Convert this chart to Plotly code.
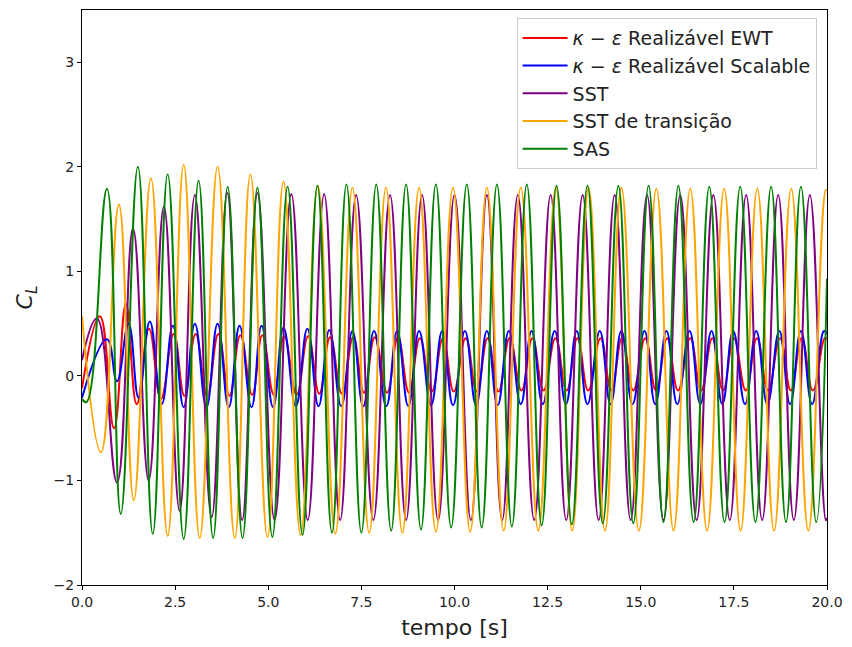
import plotly.graph_objects as go

# Extrema (peaks/troughs), per series: time [s] and C_L
ewt_t = [0.0, 0.48, 0.86, 1.18, 1.47, 1.80, 2.12, 2.46, 2.75, 3.05, 3.36, 3.66, 3.96, 4.25, 4.57,
         4.84, 5.15, 5.43, 5.76, 6.07, 6.37, 6.66, 6.98, 7.28, 7.57, 7.86, 8.19, 8.48, 8.78, 9.07,
         9.39, 9.69, 9.98, 10.30, 10.60, 10.89, 11.18, 11.48, 11.80, 12.09, 12.39, 12.71, 13.01,
         13.30, 13.59, 13.92, 14.21, 14.50, 14.80, 15.12, 15.41, 15.71, 16.00, 16.33, 16.62, 16.92,
         17.21, 17.50, 17.82, 18.12, 18.42, 18.74, 19.03, 19.32, 19.62, 19.94, 20.0]
ewt_v = [-0.12, 0.57, -0.50, 0.69, -0.27, 0.45, -0.22, 0.40, -0.19, 0.40, -0.19, 0.40, -0.19, 0.39,
         -0.18, 0.39, -0.18, 0.38, -0.18, 0.38, -0.17, 0.37, -0.17, 0.37, -0.16, 0.37, -0.16, 0.37,
         -0.16, 0.36, -0.15, 0.36, -0.15, 0.36, -0.15, 0.36, -0.15, 0.36, -0.14, 0.36, -0.14, 0.36,
         -0.14, 0.36, -0.14, 0.36, -0.14, 0.36, -0.14, 0.36, -0.14, 0.36, -0.14, 0.36, -0.14, 0.36,
         -0.14, 0.36, -0.14, 0.36, -0.14, 0.36, -0.14, 0.36, -0.14, 0.36, 0.35]

scal_t = [0.0, 0.67, 0.94, 1.25, 1.52, 1.82, 2.14, 2.44, 2.73, 3.03, 3.34, 3.64, 3.94, 4.23, 4.55,
          4.82, 5.13, 5.41, 5.74, 6.05, 6.35, 6.64, 6.96, 7.26, 7.55, 7.84, 8.17, 8.46, 8.76, 9.05,
          9.37, 9.67, 9.96, 10.28, 10.58, 10.87, 11.16, 11.46, 11.78, 12.07, 12.37, 12.69, 12.99,
          13.28, 13.57, 13.90, 14.19, 14.48, 14.78, 15.10, 15.39, 15.69, 15.98, 16.31, 16.60, 16.90,
          17.19, 17.48, 17.80, 18.10, 18.40, 18.72, 19.01, 19.30, 19.60, 19.92, 20.0]
scal_v = [-0.21, 0.35, -0.05, 0.50, -0.21, 0.52, -0.27, 0.48, -0.30, 0.50, -0.30, 0.50, -0.30, 0.48,
          -0.30, 0.48, -0.30, 0.46, -0.29, 0.45, -0.29, 0.44, -0.29, 0.43, -0.29, 0.43, -0.29, 0.43,
          -0.29, 0.43, -0.28, 0.43, -0.28, 0.43, -0.28, 0.43, -0.28, 0.43, -0.27, 0.43, -0.27, 0.43,
          -0.27, 0.43, -0.27, 0.43, -0.27, 0.43, -0.27, 0.43, -0.27, 0.43, -0.27, 0.43, -0.27, 0.43,
          -0.27, 0.43, -0.27, 0.43, -0.27, 0.43, -0.27, 0.43, -0.27, 0.43, 0.40]

sst_t = [0.0, 0.40, 0.94, 1.37, 1.79, 2.20, 2.62, 3.03, 3.48, 3.90, 4.30, 4.71, 5.17, 5.62, 6.06,
         6.50, 6.93, 7.36, 7.82, 8.27, 8.70, 9.13, 9.56, 10.00, 10.44, 10.87, 11.28, 11.70, 12.14,
         12.58, 13.00, 13.44, 13.87, 14.30, 14.73, 15.17, 15.61, 16.06, 16.50, 16.95, 17.39, 17.83,
         18.26, 18.69, 19.11, 19.54, 19.97, 20.0]
sst_v = [0.15, 0.55, -1.02, 1.41, -1.00, 1.62, -1.29, 1.73, -1.35, 1.75, -1.38, 1.75, -1.38, 1.74,
         -1.38, 1.74, -1.38, 1.73, -1.38, 1.73, -1.38, 1.73, -1.38, 1.73, -1.38, 1.73, -1.38, 1.73,
         -1.38, 1.73, -1.38, 1.73, -1.38, 1.73, -1.38, 1.73, -1.38, 1.73, -1.38, 1.73, -1.38, 1.73,
         -1.38, 1.73, -1.38, 1.73, -1.38, -1.36]

trans_t = [0.0, 0.51, 0.99, 1.39, 1.85, 2.30, 2.73, 3.16, 3.64, 4.10, 4.52, 4.98, 5.41, 5.87, 6.33,
           6.80, 7.26, 7.71, 8.16, 8.60, 9.05, 9.50, 9.96, 10.42, 10.87, 11.32, 11.78, 12.25, 12.72,
           13.16, 13.60, 14.04, 14.48, 14.95, 15.42, 15.88, 16.33, 16.78, 17.24, 17.68, 18.13, 18.58,
           19.04, 19.50, 19.97, 20.0]
trans_v = [0.57, -0.73, 1.64, -1.19, 1.89, -1.53, 2.02, -1.55, 2.00, -1.55, 1.93, -1.54, 1.86, -1.52,
           1.82, -1.51, 1.80, -1.50, 1.80, -1.50, 1.80, -1.49, 1.80, -1.49, 1.80, -1.48, 1.80, -1.48,
           1.80, -1.48, 1.80, -1.48, 1.80, -1.48, 1.79, -1.48, 1.79, -1.48, 1.79, -1.48, 1.79, -1.48,
           1.79, -1.48, 1.78, 1.77]

sas_t = [0.0, 0.12, 0.67, 1.04, 1.50, 1.90, 2.30, 2.73, 3.13, 3.52, 3.91, 4.31, 4.71, 5.11, 5.52,
         5.92, 6.32, 6.71, 7.10, 7.50, 7.90, 8.30, 8.70, 9.10, 9.50, 9.91, 10.33, 10.73, 11.14, 11.54,
         11.94, 12.34, 12.74, 13.15, 13.57, 13.98, 14.40, 14.80, 15.21, 15.61, 16.01, 16.42, 16.84,
         17.25, 17.67, 18.08, 18.50, 18.90, 19.30, 19.71, 20.0]
sas_v = [-0.22, -0.25, 1.79, -1.32, 2.00, -1.51, 1.93, -1.56, 1.87, -1.55, 1.81, -1.55, 1.80, -1.54,
         1.81, -1.52, 1.82, -1.50, 1.83, -1.50, 1.83, -1.48, 1.83, -1.47, 1.83, -1.45, 1.83, -1.45,
         1.83, -1.44, 1.83, -1.43, 1.82, -1.42, 1.82, -1.41, 1.82, -1.41, 1.82, -1.40, 1.82, -1.40,
         1.81, -1.40, 1.81, -1.40, 1.81, -1.40, 1.81, -1.40, 0.93]

series = [
    ("<i>κ</i> − <i>ε</i> Realizável EWT", ewt_t, ewt_v, "red"),
    ("<i>κ</i> − <i>ε</i> Realizável Scalable", scal_t, scal_v, "blue"),
    ("SST", sst_t, sst_v, "purple"),
    ("SST de transição", trans_t, trans_v, "orange"),
    ("SAS", sas_t, sas_v, "green"),
]

x_ticks = [0, 2.5, 5, 7.5, 10, 12.5, 15, 17.5, 20]
x_ticklabels = ["0.0", "2.5", "5.0", "7.5", "10.0", "12.5", "15.0", "17.5", "20.0"]
y_ticks = [-2, -1, 0, 1, 2, 3]
y_ticklabels = ["−2", "−1", "0", "1", "2", "3"]

fig = go.Figure()
for name, t, v, c in series:
    fig.add_trace(go.Scatter(x=t, y=v, mode="lines", name=name,
                             line=dict(color=c, width=2, shape="spline", smoothing=1.3)))

axis_common = dict(showline=True, linecolor="black", linewidth=1, mirror=True,
                   ticks="outside", ticklen=4, tickcolor="black", showgrid=False,
                   zeroline=False, tickfont=dict(size=14, color="#222"))
fig.update_layout(
    width=852, height=647,
    margin=dict(l=82, r=21, t=9, b=62),
    plot_bgcolor="white", paper_bgcolor="white",
    font=dict(family="DejaVu Sans", color="#222"),
    xaxis=dict(range=[0, 20], tickvals=x_ticks, ticktext=x_ticklabels,
               title=dict(text="tempo [s]", font=dict(size=22), standoff=10), **axis_common),
    yaxis=dict(range=[-2, 3.5], tickvals=y_ticks, ticktext=y_ticklabels,
               title=dict(text="<i>C</i><sub><i>L</i></sub>", font=dict(size=22), standoff=14),
               **axis_common),
    legend=dict(x=0.986, y=0.986, xanchor="right", yanchor="top",
                bgcolor="rgba(255,255,255,0.9)", bordercolor="#cccccc", borderwidth=1,
                font=dict(size=19), tracegroupgap=2, itemwidth=45),
    showlegend=True,
)
fig.write_html("out.html")
